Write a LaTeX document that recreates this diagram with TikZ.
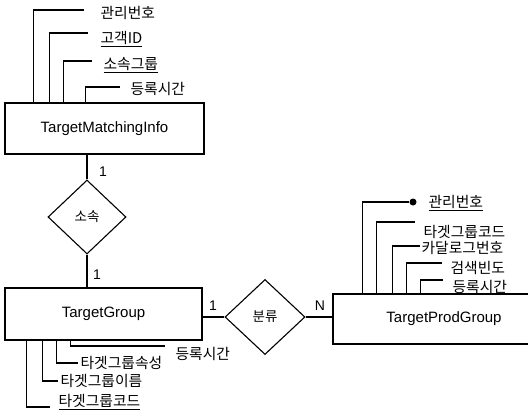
\documentclass[tikz,border=0pt]{standalone}
\usepackage{fontspec}
\setmainfont{Liberation Sans}
\newfontfamily\kr{Noto Sans CJK KR}
\usetikzlibrary{shapes.geometric}

\tikzset{
	entity/.style={draw, inner sep=0pt, font=\fontsize{15}{18}\selectfont},
	relation/.style={draw, diamond, inner sep=0pt, font=\kr\fontsize{13.5}{16}\selectfont},
	attr/.style={anchor=west, inner sep=0pt, font=\kr\fontsize{14.8}{17}\selectfont},
	card/.style={inner sep=0pt, font=\fontsize{14}{16}\selectfont},
	keydot/.style={circle, fill, inner sep=0pt, minimum size=7pt},
}

\begin{document}
\begin{tikzpicture}[x=1pt, y=-1pt, line width=1.1pt]
		\clip (0,0) rectangle (528,418);

		\node[entity, minimum width=199pt, minimum height=51pt] (TMI) at (104.5,128.5) {TargetMatchingInfo};
		\node[entity, minimum width=197pt, minimum height=52pt] (TG) at (103.5,314) {TargetGroup};
		\node[entity, minimum width=222pt, minimum height=50pt] (TPG) at (444,319) {TargetProdGroup\hspace{20pt}};

		\node[relation, minimum width=78pt, minimum height=74pt] (S) at (87,217) {소속};
		\node[relation, minimum width=80pt, minimum height=75pt] (B) at (265,317) {분류};

		\draw (S.north) -- (S.north |- TMI.south);
		\draw (S.south) -- (S.south |- TG.north);
		\draw (TG.east |- B.west) -- (B.west);
		\draw (B.east) -- (B.east -| TPG.west);

		\node[card] (C1) at (103,172) {1};
		\node[card] (C2) at (97,275) {1};
		\node[card] (C3) at (213,306) {1};
		\node[card] (C4) at (320,306) {N};

		\node[attr] (M1) at (100,13) {관리번호};
		\node[attr] (M2) at (100,39) {\underline{고객ID}};
		\node[attr] (M3) at (103,65) {\underline{소속그룹}};
		\node[attr] (M4) at (130,89) {등록시간};
		\draw ([xshift=29pt]TMI.north west) |- ([xshift=-16pt,yshift=3pt]M1.west);
		\draw ([xshift=45pt]TMI.north west) |- ([xshift=-12pt,yshift=6pt]M2.west);
		\draw ([xshift=59pt]TMI.north west) |- ([xshift=-11pt,yshift=4pt]M3.west);
		\draw ([xshift=81pt]TMI.north west) |- ([xshift=-10pt,yshift=2pt]M4.west);

		\node[attr] (G1) at (175,354) {등록시간};
		\node[attr] (G2) at (80,363) {타겟그룹속성};
		\node[attr] (G3) at (60,381) {타겟그룹이름};
		\node[attr] (G4) at (58,402) {\underline{타겟그룹코드}};
		\draw ([xshift=66pt]TG.south west) |- ([xshift=-10pt,yshift=8pt]G1.west);
		\draw ([xshift=52pt]TG.south west) |- ([xshift=-2pt]G2.west);
		\draw ([xshift=38pt]TG.south west) |- ([xshift=-2pt]G3.west);
		\draw ([xshift=22pt]TG.south west) |- ([xshift=-8pt,yshift=-5pt]G4.west);

		\node[keydot] (D) at (413,202) {};
		\node[attr] (P1) at (428,203) {\underline{관리번호}};
		\node[attr] (P2) at (423,232) {타겟그룹코드};
		\node[attr] (P3) at (421,248) {카달로그번호};
		\node[attr] (P4) at (450,268) {검색빈도};
		\node[attr] (P5) at (452,287) {등록시간};
		\draw ([xshift=30pt]TPG.north west) |- (D);
		\draw ([xshift=44pt]TPG.north west) |- ([xshift=-8pt,yshift=10pt]P2.west);
		\draw ([xshift=60pt]TPG.north west) |- ([xshift=-1pt,yshift=2pt]P3.west);
		\draw ([xshift=74pt]TPG.north west) |- ([xshift=-8pt,yshift=5pt]P4.west);
		\draw ([xshift=88pt]TPG.north west) |- ([xshift=-9pt,yshift=7pt]P5.west);
	\end{tikzpicture}
\end{document}
